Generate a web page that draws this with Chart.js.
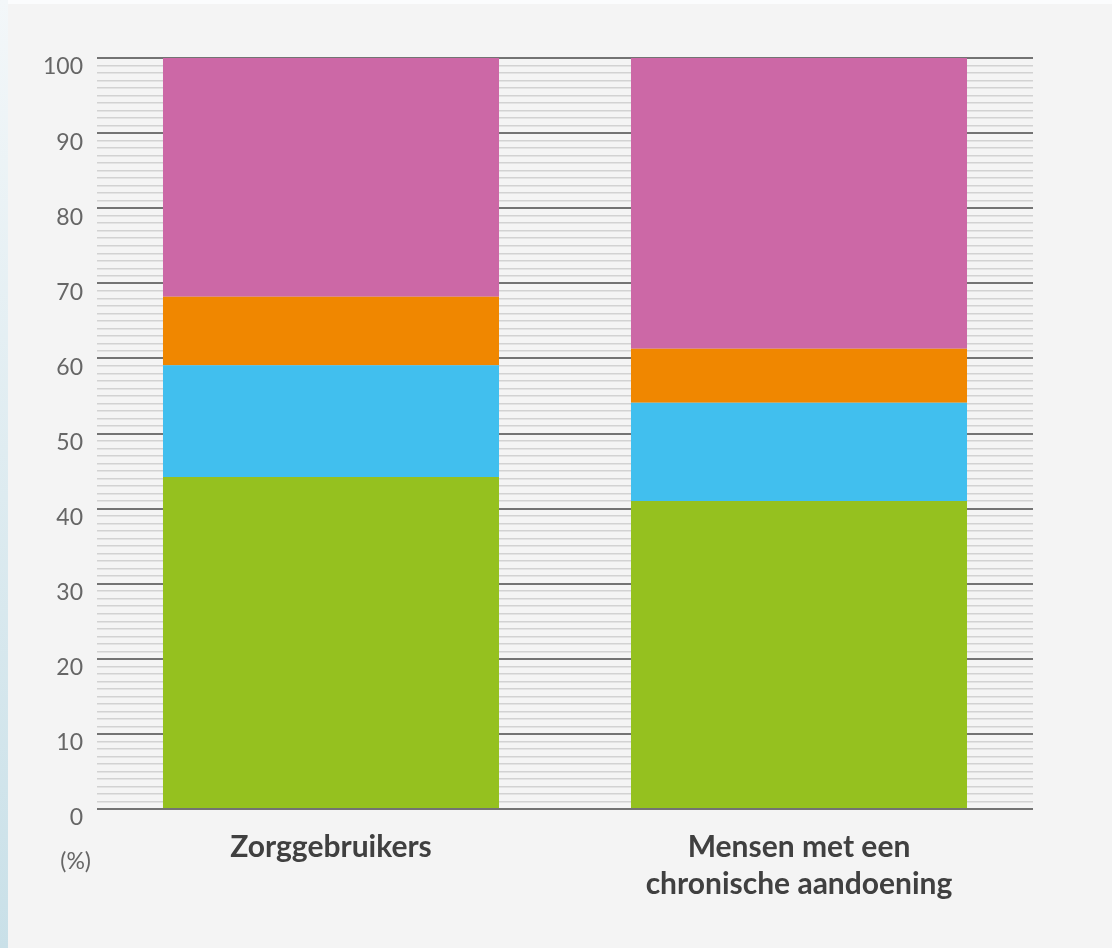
<!DOCTYPE html>
<html>
<head>
<meta charset="utf-8">
<script src="https://cdn.jsdelivr.net/npm/chart.js@4.4.1/dist/chart.umd.min.js"></script>
<style>
    html, body { margin: 0; padding: 0; }
    body { width: 1112px; height: 948px; background: #fbfcfd; position: relative; overflow: hidden; }
    .strip { position: absolute; left: 0; top: 0; width: 8px; height: 948px;
             background: linear-gradient(to bottom, #f3f7f9, #c9e0e8); }
    .panel { position: absolute; left: 8px; top: 4px; right: 0; bottom: 0; background: #f4f4f4; }
    canvas { position: absolute; left: 0; top: 0; }
</style>
</head>
<body>
<div class="strip"></div>
<div class="panel"></div>
<canvas id="myChart" width="1112" height="948"></canvas>
<script>
const categories = ["Zorggebruikers", ["Mensen met een", "chronische aandoening"]];
const seriesNames = ["Groen", "Blauw", "Oranje", "Roze"];
const green = [44.2, 41.0];
const blue = [14.9, 13.1];
const orange = [9.1, 7.2];
const pink = [31.8, 38.7];
const majorTicks = [0, 10, 20, 30, 40, 50, 60, 70, 80, 90, 100];

const colors = ["#95c11f", "#41bfee", "#f08700", "#cc68a6"];
const values = [green, blue, orange, pink];

// draws the "(%)" unit under the y axis labels
const unitLabel = {
    id: "unitLabel",
    afterDraw(chart) {
        const { ctx, chartArea } = chart;
        ctx.save();
        ctx.font = "23px Lato";
        ctx.fillStyle = "#666666";
        ctx.textAlign = "right";
        ctx.textBaseline = "middle";
        ctx.fillText("(%)", chartArea.left - 6, chartArea.bottom + 53);
        ctx.restore();
    },
};

const ctx = document.getElementById("myChart").getContext("2d");
new Chart(ctx, {
    type: "bar",
    data: {
        labels: categories,
        datasets: values.map((v, i) => ({
            label: seriesNames[i],
            data: v,
            backgroundColor: colors[i],
            borderWidth: 0,
            barPercentage: 0.718,
            categoryPercentage: 1,
        })),
    },
    options: {
        responsive: false,
        animation: false,
        layout: { padding: { top: 58, right: 79, left: 0, bottom: 0 } },
        plugins: {
            legend: { display: false },
            tooltip: { enabled: false },
        },
        scales: {
            x: {
                stacked: true,
                grid: { display: false },
                border: { display: false },
                ticks: {
                    color: "#404040",
                    font: { family: "Lato", size: 30, weight: "bold", lineHeight: 1.23 },
                    padding: 12,
                    maxRotation: 0,
                },
                afterFit(scale) { scale.height = 139; },
            },
            y: {
                stacked: true,
                min: 0,
                max: 100,
                border: { display: false },
                grid: {
                    drawTicks: false,
                    color: (c) => (majorTicks.includes(c.tick.value) ? "#737373" : "#d2d2d2"),
                    lineWidth: (c) => (majorTicks.includes(c.tick.value) ? 2 : 1.5),
                },
                ticks: {
                    stepSize: 1,
                    maxTicksLimit: 200,
                    autoSkip: false,
                    color: "#666666",
                    font: { family: "Lato", size: 23 },
                    padding: 14,
                    labelOffset: 9,
                    callback: (v) => (majorTicks.includes(v) ? String(v) : ""),
                },
                afterFit(scale) { scale.width = 97; },
            },
        },
    },
    plugins: [unitLabel],
});
</script>
</body>
</html>
